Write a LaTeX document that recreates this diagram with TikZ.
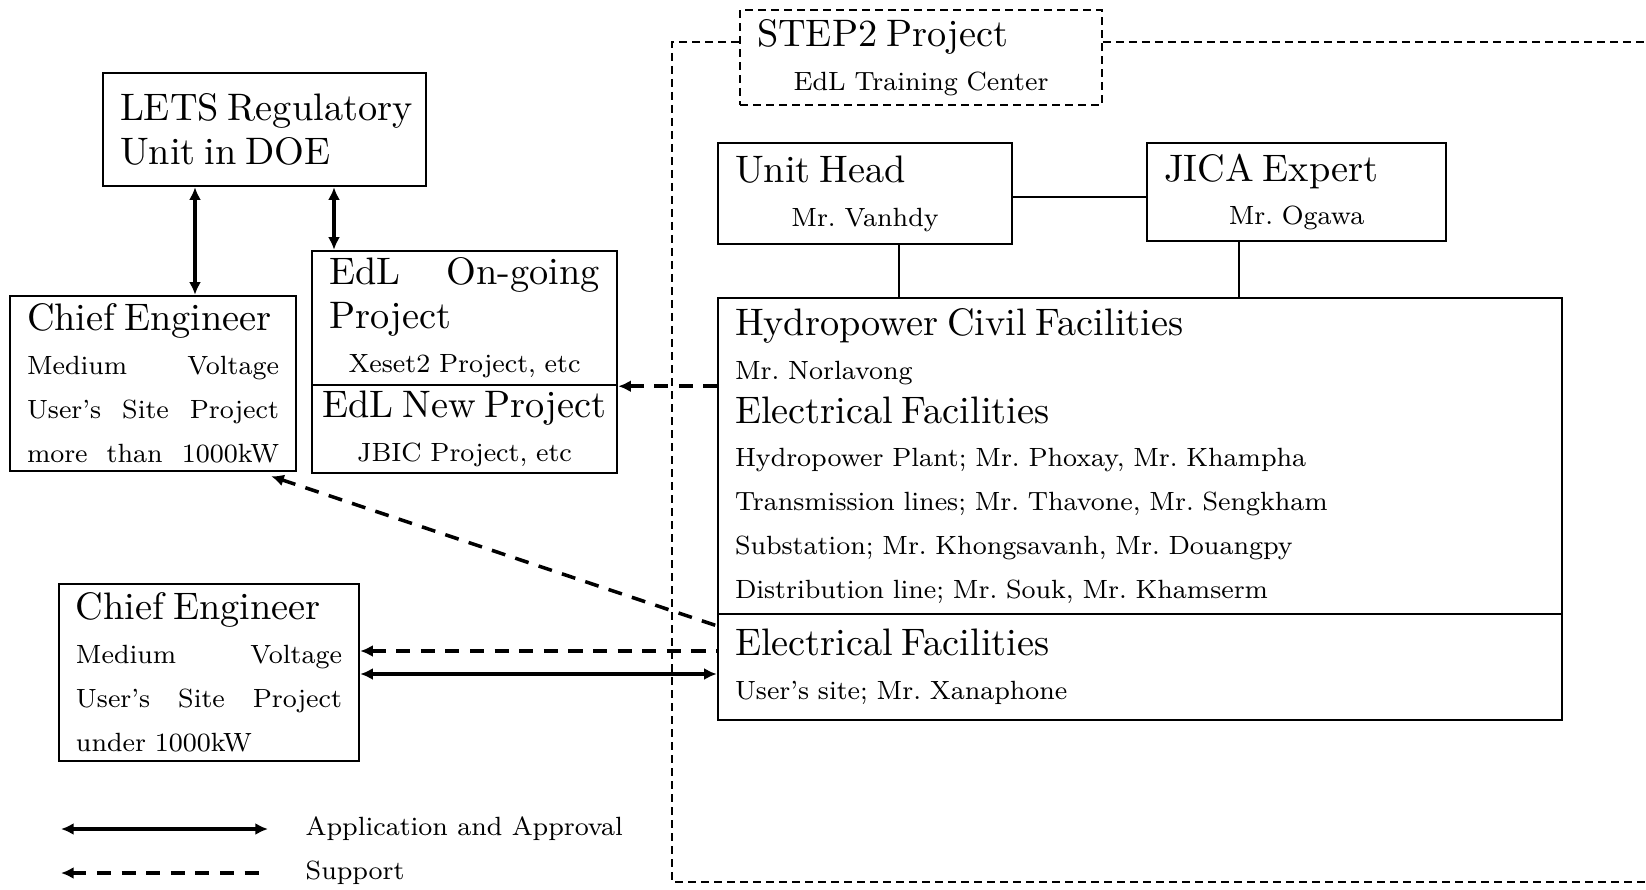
\documentclass[tikz,border=0pt]{standalone}
\usepackage{tikz}
\usetikzlibrary{arrows.meta}

\newcommand{\headfont}{\fontsize{10.9}{12.5}\selectfont}
\newcommand{\namefont}{\fontsize{7.5}{12.5}\selectfont}
\newcommand{\midline}[1]{\makebox[\hsize]{#1}}

\tikzset{
  box/.style={draw, line width=0.7pt, inner xsep=0.17cm, inner ysep=0pt, align=left, font=\namefont},
  frame/.style={line width=0.5pt, dash pattern=on 2.2pt off 1.5pt},
  app/.style={line width=1pt, {Latex[length=3.6pt,width=3.4pt]}-{Latex[length=3.6pt,width=3.4pt]}},
  sup/.style={line width=1pt, dash pattern=on 4pt off 3pt, {Latex[length=3.6pt,width=3.4pt]}-},
  link/.style={line width=0.5pt}
}

\begin{document}
\frenchspacing
\begin{tikzpicture}
    \useasboundingbox (0,0) rectangle (16.46,-8.89);

    % Regulatory side
    \node[box, text width=2.89cm, minimum height=1.13cm] (lets) at (2.645,-1.295)
      {\mbox{\headfont LETS Regulatory}\\{\headfont Unit in DOE}};
    \node[box, text width=2.52cm, minimum height=1.75cm] (ce1) at (1.53,-3.835)
      {{\headfont Chief Engineer}\\Medium\hfill Voltage\\User's\hfill Site\hfill Project\\more\hfill than\hfill 1000kW};
    \node[box, text width=2.71cm, minimum height=1.34cm] (edlA) at (4.645,-3.18)
      {{\headfont EdL\hfill On-going}\\{\headfont Project}\\\midline{Xeset2 Project, etc}};
    \node[box, text width=2.71cm, minimum height=0.88cm] (edlB) at (4.645,-4.29)
      {\midline{\headfont EdL New Project}\\\midline{JBIC Project, etc}};
    \node[box, text width=2.66cm, minimum height=1.77cm] (ce2) at (2.09,-6.725)
      {{\headfont Chief Engineer}\\Medium\hfill Voltage\\User's\hfill Site\hfill Project\\under 1000kW};

    % EdL training center side
    \node[box, frame, text width=3.28cm, minimum height=0.95cm] (step2) at (9.21,-0.575)
      {{\headfont STEP2 Project}\\\midline{EdL Training Center}};
    \node[box, text width=2.60cm, minimum height=1.01cm] (unit) at (8.65,-1.935)
      {{\headfont Unit Head}\\\midline{Mr. Vanhdy}};
    \node[box, text width=2.65cm, minimum height=0.98cm] (jica) at (12.965,-1.92)
      {{\headfont JICA Expert}\\\midline{Mr. Ogawa}};
    \node[box, text width=8.10cm, minimum height=3.16cm] (hydro) at (11.40,-4.56)
      {{\headfont Hydropower Civil Facilities}\\Mr. Norlavong\\{\headfont Electrical Facilities}\\
       Hydropower Plant; Mr. Phoxay, Mr. Khampha\\Transmission lines; Mr. Thavone, Mr. Sengkham\\
       Substation; Mr. Khongsavanh, Mr. Douangpy\\Distribution line; Mr. Souk, Mr. Khamserm};
    \node[box, text width=8.10cm, minimum height=1.06cm] (user) at (11.40,-6.67)
      {{\headfont Electrical Facilities}\\User's site; Mr. Xanaphone};

    % dashed frame of the project
    \draw[frame] (step2.west |- 0,-0.42) -- (6.72,-0.42) -- (6.72,-8.82) -- (16.46,-8.82);
    \draw[frame] (step2.east |- 0,-0.42) -- (16.46,-0.42);

    % organisation links
    \draw[link] (unit.east |- 0,-1.97) -- (jica.west |- 0,-1.97);
    \draw[link] (8.99,0 |- unit.south) -- (8.99,0 |- hydro.north);
    \draw[link] (12.39,0 |- jica.south) -- (12.39,0 |- hydro.north);

    % application and approval
    \draw[app] (1.95,0 |- lets.south) -- (1.95,0 |- ce1.north);
    \draw[app] (3.34,0 |- lets.south) -- (3.34,0 |- edlA.north);
    \draw[app] (ce2.east |- 0,-6.74) -- (user.west |- 0,-6.74);

    % support
    \draw[sup] (edlA.south east) -- (hydro.west |- edlA.south east);
    \draw[sup] ([xshift=-0.26cm,yshift=-0.04cm]ce1.south east) -- ([yshift=-0.13cm]user.north west);
    \draw[sup] (ce2.east |- 0,-6.51) -- (user.west |- 0,-6.51);

    % legend
    \coordinate (appA) at (0.61,-8.29);
    \coordinate (appB) at (2.68,-8.29);
    \coordinate (supA) at (0.61,-8.73);
    \coordinate (supB) at (2.68,-8.73);
    \draw[app] (appA) -- (appB);
    \draw[sup] (supA) -- (supB);
    \node[anchor=west, inner sep=0pt, font=\namefont] (appText) at (3.05,-8.29) {Application and Approval};
    \node[anchor=west, inner sep=0pt, font=\namefont] (supText) at (3.05,-8.73) {Support};
\end{tikzpicture}
\end{document}
